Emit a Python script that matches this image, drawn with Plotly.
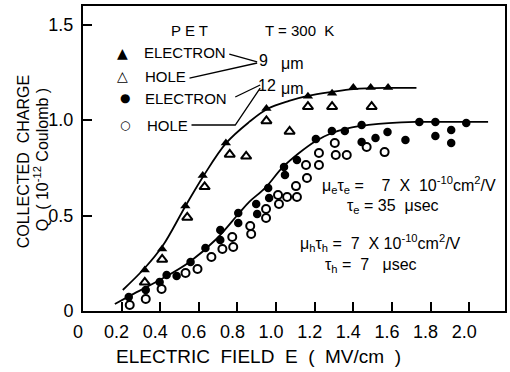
import plotly.graph_objects as go

# ---------------- data ----------------
# 9 um sample, electrons (filled triangles)
e9_x = [0.32, 0.41, 0.53, 0.62, 0.74, 0.95, 1.165, 1.29, 1.40, 1.49, 1.58]
e9_y = [0.215, 0.325, 0.55, 0.71, 0.88, 1.06, 1.125, 1.14, 1.17, 1.17, 1.17]
# 9 um sample, holes (open triangles)
h9_x = [0.32, 0.41, 0.54, 0.63, 0.76, 0.845, 0.95, 1.07, 1.165, 1.29, 1.495]
h9_y = [0.15, 0.27, 0.49, 0.65, 0.82, 0.81, 0.995, 0.94, 1.07, 1.07, 1.07]
# 12 um sample, electrons (filled circles)
e12_x = [0.237, 0.325, 0.397, 0.433, 0.485, 0.557, 0.634, 0.711, 0.711, 0.804, 0.804,
         0.897, 0.902, 0.959, 0.964, 1.041, 1.046, 1.108, 1.206, 1.289, 1.356, 1.443,
         1.443, 1.515, 1.577, 1.67, 1.742, 1.825, 1.825, 1.907, 1.907, 1.985]
e12_y = [0.073, 0.11, 0.152, 0.188, 0.183, 0.257, 0.33, 0.424, 0.372, 0.513, 0.461,
         0.56, 0.508, 0.644, 0.592, 0.754, 0.712, 0.79, 0.90, 0.942, 0.942, 0.974,
         0.885, 0.906, 0.937, 0.895, 0.99, 0.99, 0.916, 0.948, 0.88, 0.984]
# 12 um sample, holes (open circles)
h12_x = [0.242, 0.325, 0.407, 0.531, 0.593, 0.665, 0.722, 0.773, 0.778, 0.866, 0.871,
         0.948, 0.948, 1.01, 1.015, 1.057, 1.108, 1.103, 1.16, 1.155, 1.222, 1.222,
         1.304, 1.309, 1.366, 1.469, 1.562]
h12_y = [0.031, 0.063, 0.115, 0.199, 0.22, 0.283, 0.325, 0.387, 0.335, 0.445, 0.403,
         0.534, 0.487, 0.607, 0.56, 0.597, 0.597, 0.654, 0.696, 0.764, 0.764, 0.827,
         0.88, 0.817, 0.817, 0.859, 0.832]
# drawn fit curves
c9_x = [0.206, 0.32, 0.412, 0.531, 0.624, 0.742, 0.861, 0.954, 1.067, 1.165, 1.289,
        1.402, 1.582, 1.727]
c9_y = [0.11, 0.225, 0.34, 0.55, 0.707, 0.88, 0.99, 1.058, 1.10, 1.126, 1.147,
        1.162, 1.168, 1.168]
c12_x = [0.165, 0.242, 0.397, 0.552, 0.691, 0.809, 0.861, 0.948, 1.031, 1.119, 1.206,
         1.289, 1.376, 1.479, 1.582, 1.722, 1.892, 2.098]
c12_y = [0.037, 0.079, 0.162, 0.257, 0.377, 0.513, 0.571, 0.649, 0.749, 0.827, 0.89,
         0.932, 0.958, 0.974, 0.984, 0.99, 0.99, 0.99]

x_ticks = [0, 0.2, 0.4, 0.6, 0.8, 1.0, 1.2, 1.4, 1.6, 1.8, 2.0]
x_labels = ["0", "0.2", "0.4", "0.6", "0.8", "1.0", "1.2", "1.4", "1.6", "1.8", "2.0"]
y_ticks = [0, 0.5, 1.0, 1.5]
y_labels = ["0", "0.5", "1.0", "1.5"]

# ---------------- layout geometry ----------------
W, H = 510, 372
L, R, T, B = 83, 3, 6, 61
PW, PH = W - L - R, H - T - B


def px(x):
    return (x - L) / PW


def py(y):
    return (H - B - y) / PH


FONT = "Liberation Sans, Arial, Helvetica, sans-serif"
SYM = "DejaVu Sans, sans-serif"

fig = go.Figure()
fig.add_trace(go.Scatter(x=c9_x, y=c9_y, mode="lines", line=dict(color="black", width=1.8),
                         line_shape="spline", hoverinfo="skip"))
fig.add_trace(go.Scatter(x=c12_x, y=c12_y, mode="lines", line=dict(color="black", width=1.8),
                         line_shape="spline", hoverinfo="skip"))
fig.add_trace(go.Scatter(x=e9_x, y=e9_y, mode="markers",
                         marker=dict(symbol="triangle-up", size=9, color="black")))
fig.add_trace(go.Scatter(x=h9_x, y=h9_y, mode="markers",
                         marker=dict(symbol="triangle-up-open", size=9, color="black",
                                     line=dict(color="black", width=2))))
fig.add_trace(go.Scatter(x=e12_x, y=e12_y, mode="markers",
                         marker=dict(symbol="circle", size=8.5, color="black")))
fig.add_trace(go.Scatter(x=h12_x, y=h12_y, mode="markers",
                         marker=dict(symbol="circle-open", size=8, color="black",
                                     line=dict(color="black", width=2))))

ann = []


def text(x, y, s, size=15, xanchor="center", font=FONT, angle=0):
    ann.append(dict(x=px(x), y=py(y), xref="paper", yref="paper", text=s, showarrow=False,
                    xanchor=xanchor, yanchor="middle", textangle=angle,
                    font=dict(family=font, size=size, color="black")))


text(190, 30, "P E T", 15)
text(301, 30, "T = 300  K", 15)
text(123, 53, "▲", 14, font=SYM)
text(123, 76, "△", 14, font=SYM)
text(125, 98, "●", 12, font=SYM)
text(125, 125, "○", 12, font=SYM)
text(142, 53, "ELECTRON", 15, "left")
text(143, 76, "HOLE", 15, "left")
text(143, 98, "ELECTRON", 15, "left")
text(145, 125, "HOLE", 15, "left")
text(264, 61, "9", 16)
text(293, 64, "μm", 16)
text(268, 85, "12", 16)
text(293, 88, "μm", 16)
text(321, 185, "μ<sub>e</sub>τ<sub>e</sub> =    7  X  10<sup>-10</sup>cm<sup>2</sup>/V", 16, "left")
text(346, 206, "τ<sub>e</sub> = 35  μsec", 16, "left")
text(299, 243, "μ<sub>h</sub>τ<sub>h</sub> =  7  X 10<sup>-10</sup>cm<sup>2</sup>/V", 16, "left")
text(324, 265, "τ<sub>h</sub> =  7   μsec", 16, "left")
text(23, 162, "COLLECTED  CHARGE", 16, angle=-90)
text(41, 160, "Q  ( 10<sup>-12</sup> Coulomb )", 16, angle=-90)
text(259, 357, "ELECTRIC  FIELD  E  (  MV/cm  )", 19)

shapes = []


def seg(pts):
    path = "M " + " L ".join(f"{px(a):.4f},{py(b):.4f}" for a, b in pts)
    shapes.append(dict(type="path", path=path, xref="paper", yref="paper",
                       line=dict(color="black", width=1.3)))


seg([(230, 54), (258, 62)])
seg([(190, 78), (258, 63)])
seg([(236, 97), (261, 85)])
seg([(192, 125), (236, 125), (261, 88)])

axis_common = dict(showline=True, linecolor="black", linewidth=2, mirror=True,
                   ticks="inside", ticklen=9, tickwidth=1.5, tickcolor="black",
                   showgrid=False, zeroline=False,
                   tickfont=dict(family=FONT, size=18, color="black"))

fig.update_layout(
    width=W, height=H,
    margin=dict(l=L, r=R, t=T, b=B, pad=0),
    paper_bgcolor="white", plot_bgcolor="white",
    showlegend=False,
    xaxis=dict(range=[0, PW / 194.0], tickvals=x_ticks, ticktext=x_labels,
               ticklabelshift=-5, ticklabelstandoff=3, **axis_common),
    yaxis=dict(range=[0, PH / 191.0], tickvals=y_ticks, ticktext=y_labels,
               ticklabelstandoff=4, **axis_common),
    annotations=ann, shapes=shapes,
)

fig.write_html("out.html")
